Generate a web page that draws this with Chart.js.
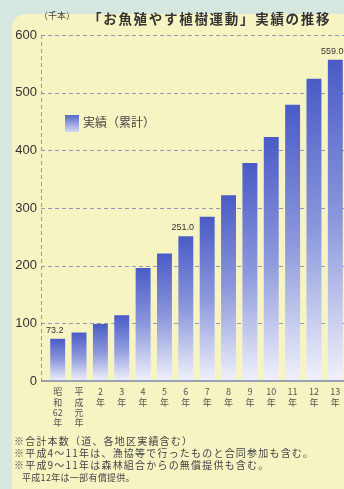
<!DOCTYPE html>
<html>
<head>
<meta charset="utf-8">
<script src="https://cdn.jsdelivr.net/npm/chart.js@4"></script>
<style>
  html, body { margin:0; padding:0; }
  body { width:344px; height:489px; background:#d6e7e0; position:relative; overflow:hidden;
         font-family:"Noto Sans CJK JP", "Noto Sans", sans-serif; }
  #panel { position:absolute; left:12px; top:14px; right:0; bottom:0; background:#f7f4c4;
           border-top-left-radius:14px; }
  #wrap { position:absolute; left:0; top:0; width:352px; height:441px; }
  .unit { position:absolute; left:39px; top:9px; font-size:9px; color:#444; }
  .title { position:absolute; left:88px; top:8px; font-size:13.5px; font-weight:bold; color:#333; letter-spacing:1.7px; }
  .legend { position:absolute; left:65px; top:113px; font-size:12px; color:#444; }
  .legend i { display:inline-block; width:14px; height:17px; vertical-align:middle; margin-right:4px;
              background:linear-gradient(#5868cc, #d4d8f2); }
  .notes { position:absolute; left:14px; top:435px; font-size:10px; line-height:12px; color:#444; letter-spacing:1.2px; }
  .notes span { font-size:9px; letter-spacing:0.3px; padding-left:8px; }
</style>
</head>
<body>
<div id="panel"></div>
<div id="wrap"><canvas id="chart" width="352" height="441"></canvas></div>
<div class="unit">（千本）</div>
<div class="title">「お魚殖やす植樹運動」実績の推移</div>
<div class="legend"><i></i>実績（累計）</div>
<div class="notes">
  ※合計本数（道、各地区実績含む）<br>
  ※平成4～11年は、漁協等で行ったものと合同参加も含む。<br>
  ※平成9～11年は森林組合からの無償提供も含む。<br>
  <span>平成12年は一部有償提供。</span>
</div>
<script>
// data (thousand trees, cumulative)
const years = [
  ['昭','和','62','年'], ['平','成','元','年'], ['2','年'], ['3','年'], ['4','年'], ['5','年'],
  ['6','年'], ['7','年'], ['8','年'], ['9','年'], ['10','年'], ['11','年'], ['12','年'], ['13','年']
];
const totals = [73.2, 84, 99, 114, 196, 221, 251, 285, 322, 378, 423, 479, 524, 557];
// which bars carry a value label
const labelIdx = [0, 6, 13];
const labelText = ['73.2', '251.0', '559.0'];

const AXIS_X = 41;

function barGradient(ctx) {
  const chart = ctx.chart;
  const area = chart.chartArea;
  if (!area || ctx.raw === undefined) return '#6070cc';
  const y = chart.scales.y;
  const top = y.getPixelForValue(ctx.raw);
  const bottom = y.getPixelForValue(0);
  const g = chart.ctx.createLinearGradient(0, top, 0, bottom);
  g.addColorStop(0, '#4a5bc6');
  g.addColorStop(0.5, '#8c98dc');
  g.addColorStop(1, '#f0f1fb');
  return g;
}

const axesPlugin = {
  id: 'axesPlugin',
  beforeDatasetsDraw(chart) {
    const c = chart.ctx, a = chart.chartArea, y = chart.scales.y;
    c.save();
    c.strokeStyle = '#9598b8';
    c.lineWidth = 1;
    c.setLineDash([4, 3]);
    for (let v = 100; v <= 600; v += 100) {
      const py = Math.round(y.getPixelForValue(v)) + 0.5;
      c.beginPath(); c.moveTo(AXIS_X, py); c.lineTo(a.right, py); c.stroke();
    }
    c.beginPath(); c.moveTo(AXIS_X + 0.5, y.getPixelForValue(600)); c.lineTo(AXIS_X + 0.5, y.getPixelForValue(0)); c.stroke();
    c.restore();
  },
  afterDatasetsDraw(chart) {
    const c = chart.ctx, a = chart.chartArea, y = chart.scales.y;
    c.save();
    c.strokeStyle = '#7f84a8';
    c.lineWidth = 1.5;
    const py = y.getPixelForValue(0);
    c.beginPath(); c.moveTo(AXIS_X, py); c.lineTo(a.right, py); c.stroke();
    // value labels
    const meta = chart.getDatasetMeta(0);
    c.fillStyle = '#333';
    c.font = '9px "Liberation Sans Narrow", "Liberation Sans", sans-serif';
    c.textAlign = 'center';
    c.textBaseline = 'bottom';
    labelIdx.forEach((i, k) => {
      const bar = meta.data[i];
      c.fillText(labelText[k], bar.x - 3, bar.y - 4);
    });
    c.restore();
  }
};

new Chart(document.getElementById('chart'), {
  type: 'bar',
  data: {
    labels: years,
    datasets: [{ data: totals, backgroundColor: barGradient, borderWidth: 0,
                 barPercentage: 0.7, categoryPercentage: 1 }]
  },
  options: {
    responsive: false,
    animation: false,
    layout: { padding: { top: 35, right: 6, left: 0, bottom: 0 } },
    plugins: { legend: { display: false }, tooltip: { enabled: false } },
    scales: {
      x: {
        grid: { display: false, drawTicks: false }, border: { display: false },
        ticks: { color: '#555', font: { size: 9, family: '"Noto Sans CJK JP"', lineHeight: 1.12 },
                 maxRotation: 0, autoSkip: false, padding: 6 },
        afterFit: s => { s.height = 60; }
      },
      y: {
        min: 0, max: 600,
        grid: { display: false, drawTicks: false }, border: { display: false },
        ticks: { stepSize: 100, color: '#333', padding: 10,
                 font: { size: 13, family: '"Liberation Sans Narrow", "Liberation Sans", sans-serif' } },
        afterFit: s => { s.width = 47; }
      }
    }
  },
  plugins: [axesPlugin]
});
</script>
</body>
</html>
